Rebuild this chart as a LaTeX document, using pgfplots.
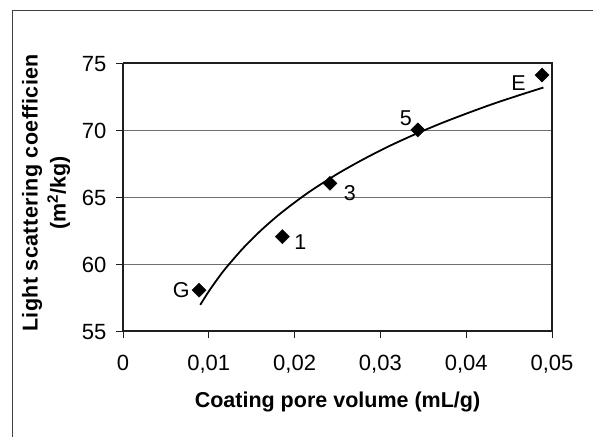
\documentclass[border=0pt]{standalone}
\usepackage{fontspec}
\setmainfont{Liberation Sans}
\usepackage{pgfplots}
\pgfplotsset{compat=1.18}
\definecolor{frame}{HTML}{1E1E1E}
\definecolor{grid}{HTML}{707070}
\begin{document}
\begin{tikzpicture}[font=\fontsize{21.5}{26}\selectfont]
\useasboundingbox (0,0) rectangle (593pt,436pt);
\draw[line width=1.2pt, color=black!75] (12.3pt,-5pt) -- (12.3pt,425.3pt) -- (600pt,425.3pt);
\begin{axis}[
  at={(123pt,105pt)}, anchor=south west,
  scale only axis, width=429pt, height=268pt,
  xmin=0, xmax=0.05, ymin=55, ymax=75,
  scaled x ticks=false, scaled y ticks=false,
  xtick={0,0.01,0.02,0.03,0.04,0.05},
  xticklabels={0,{0,01},{0,02},{0,03},{0,04},{0,05}},
  ytick={55,60,65,70,75},
  yticklabels={55,60,65,70,75},
  axis x line*=bottom, axis y line*=left,
  tick align=outside, major tick length=7pt,
  tick style={line width=0.8pt, color=frame},
  xtick pos=bottom, ytick pos=left,
  axis line style={line width=2pt, color=frame},
  ymajorgrids, grid style={line width=0.9pt, color=grid},
  tick label style={font=\fontsize{22}{26}\selectfont},
  xticklabel style={yshift=-13.5pt},
  yticklabel style={xshift=-6pt, yshift=-1pt},
  xlabel={\bfseries Coating pore volume (mL/g)},
  ylabel={\bfseries\addfontfeatures{LetterSpace=2}Light scattering coefficien\\\bfseries (m\textsuperscript{2}/kg)},
  xlabel style={at={(axis description cs:0.5,-0.264)}, anchor=center},
  ylabel style={at={(axis description cs:-0.1795,0.515)}, anchor=center, align=center, font=\fontsize{21.5}{28}\selectfont},
  clip=false,
]
\draw[line width=2pt, color=frame] (rel axis cs:0,1) -- (rel axis cs:1,1) -- (rel axis cs:1,0);
\addplot[black, line width=1.8pt, smooth] coordinates {
(0.009,56.95) (0.010,57.96) (0.011,58.87) (0.012,59.71) (0.014,61.18)
(0.016,62.46) (0.018,63.59) (0.020,64.59) (0.022,65.51) (0.025,66.73)
(0.028,67.81) (0.031,68.79) (0.034,69.67) (0.037,70.48) (0.040,71.22)
(0.043,71.92) (0.046,72.56) (0.049,73.17)};
\addplot[only marks, mark=square*, mark size=5pt, mark options={rotate=45, fill=black, draw=black}] coordinates {
(0.00886,58.05) (0.01857,62.04) (0.02412,66.02) (0.03436,70.01) (0.04884,74.1)};
\node[anchor=east] at (axis cs:0.00886,58.05) [xshift=-6pt] {G};
\node at (axis cs:0.01857,62.04) [xshift=18pt, yshift=-5pt] {1};
\node at (axis cs:0.02412,66.02) [xshift=20pt, yshift=-10pt] {3};
\node at (axis cs:0.03436,70.01) [xshift=-12pt, yshift=12pt] {5};
\node at (axis cs:0.04884,74.1) [xshift=-23.5pt, yshift=-7.7pt] {E};
\end{axis}
\end{tikzpicture}
\end{document}
